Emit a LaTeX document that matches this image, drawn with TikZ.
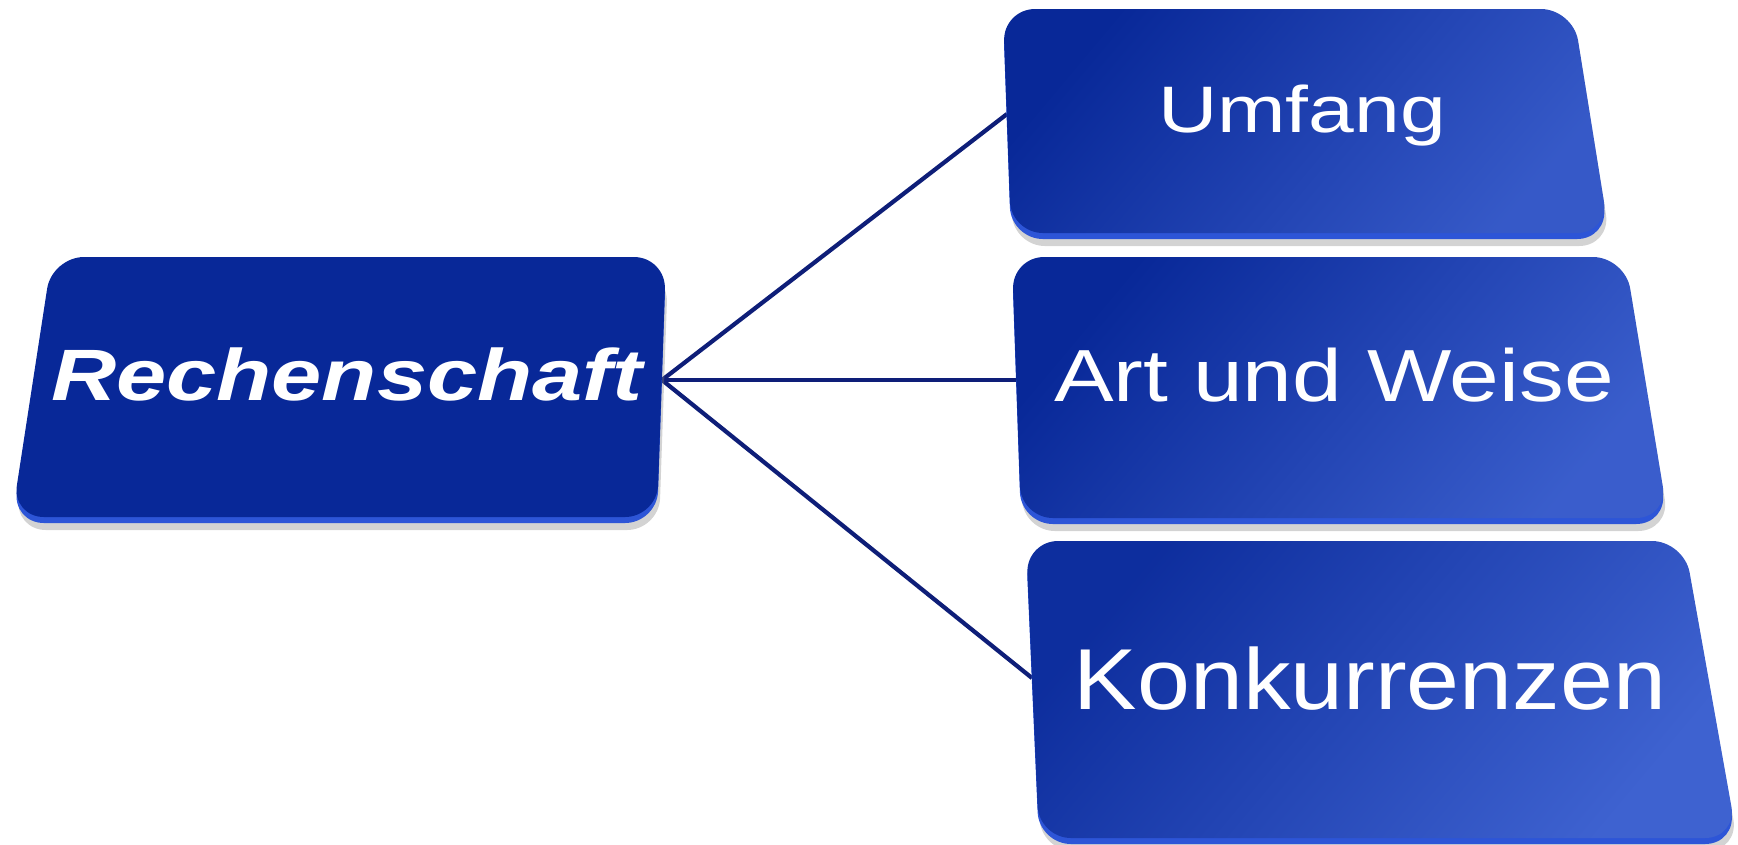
\documentclass[tikz,border=0pt]{standalone}
\usepackage{fontspec}
\setmainfont{Liberation Sans}
\usetikzlibrary{shadows}
\definecolor{boxdark}{RGB}{8,40,152}
\definecolor{boxlight}{RGB}{62,98,208}
\definecolor{boxrim}{RGB}{45,85,215}
\definecolor{linkblue}{RGB}{14,30,120}
\tikzset{
  face/.style={rounded corners=0.32cm},
  rim/.style={rounded corners=0.32cm, fill=boxrim,
    drop shadow={shadow xshift=0.02cm, shadow yshift=-0.07cm, opacity=0.35}},
  boxtext/.style={text=white, anchor=base, inner sep=0pt},
  link/.style={draw=linkblue, line width=1.2pt}
}
\begin{document}
\begin{tikzpicture}[x=0.01cm,y=-0.01cm]
	\useasboundingbox (0,0) rectangle (1738,844);
	% connector ends
	\coordinate (hub) at (662,380);
	\coordinate (umf-in) at (1007,114);
	\coordinate (art-in) at (1016,380);
	\coordinate (kon-in) at (1032,678);
	\draw[link] (hub) -- (umf-in);
	\draw[link] (hub) -- (art-in);
	\draw[link] (hub) -- (kon-in);
	% left box
	\fill[rim] (52,263) -- (666,263) -- (657,523) -- (12,523) -- cycle;
	\fill[boxdark, face] (52,257) -- (666,257) -- (657,517) -- (12,517) -- cycle;
	% right boxes
	\fill[rim] (1003,15) -- (1573,15) -- (1609,239) -- (1011,239) -- cycle;
	\shade[face, top color=boxdark, bottom color=boxlight!85!boxdark, shading angle=50]
		(1003,9) -- (1573,9) -- (1609,233) -- (1011,233) -- cycle;
	\fill[rim] (1012,263) -- (1625,263) -- (1668,524) -- (1021,524) -- cycle;
	\shade[face, top color=boxdark, bottom color=boxlight!92!boxdark, shading angle=50]
		(1012,257) -- (1625,257) -- (1668,518) -- (1021,518) -- cycle;
	\fill[rim] (1026,547) -- (1684,547) -- (1737,844) -- (1039,844) -- cycle;
	\shade[face, top color=boxdark!90!boxlight, bottom color=boxlight, shading angle=50]
		(1026,541) -- (1684,541) -- (1737,838) -- (1039,838) -- cycle;
	% texts
	\node[boxtext, font=\bfseries\itshape\fontsize{20.7}{24}\selectfont, xscale=1.24] (rech) at (347,400) {Rechenschaft};
	\node[boxtext, font=\fontsize{18.7}{22}\selectfont, xscale=1.25] (umf) at (1302,132) {Umfang};
	\node[boxtext, font=\fontsize{21}{25}\selectfont, xscale=1.21] (art) at (1334,401) {Art und Weise};
	\node[boxtext, font=\fontsize{24.6}{29}\selectfont, xscale=1.10] (kon) at (1370,709) {Konkurrenzen};
\end{tikzpicture}
\end{document}
